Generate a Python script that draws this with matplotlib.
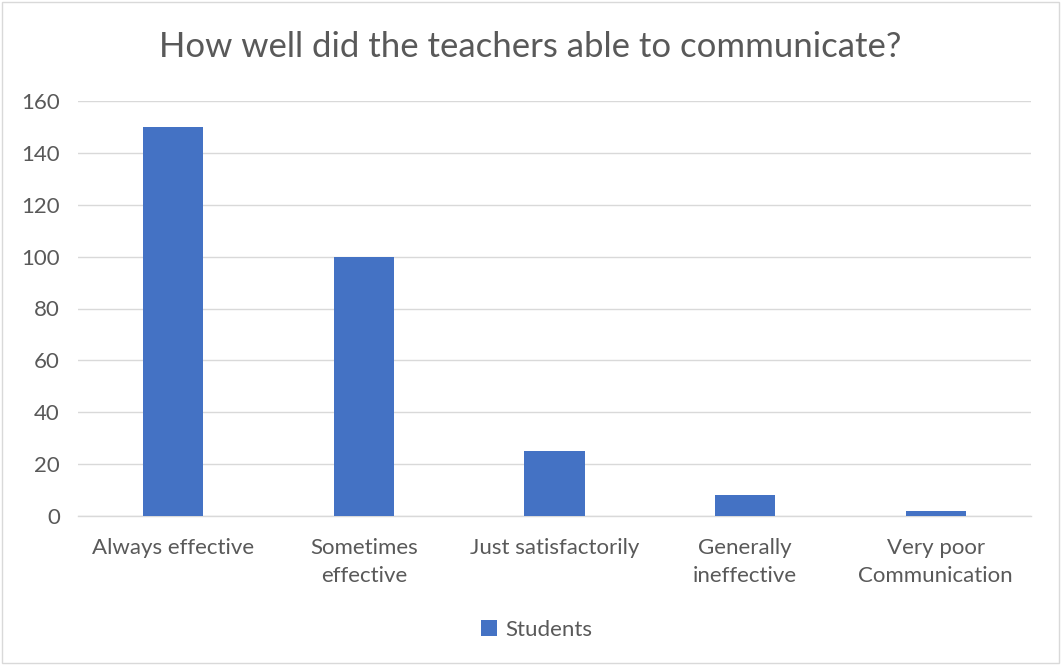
import matplotlib.pyplot as plt
from matplotlib.patches import Rectangle

categories = ['Always effective', 'Sometimes\neffective', 'Just satisfactorily',
              'Generally\nineffective', 'Very poor\nCommunication']
students = [150, 100, 25, 8, 2]
yticks = [0, 20, 40, 60, 80, 100, 120, 140, 160]

plt.rcParams['font.family'] = ['Lato', 'DejaVu Sans']
text_color = '#595959'

fig = plt.figure(figsize=(10.61, 6.65), dpi=100)
ax = fig.add_axes([78 / 1061, 1 - 516 / 665, (1031 - 78) / 1061, (516 - 101) / 665])

x = range(len(categories))
ax.bar(x, students, width=0.315, color='#4472C4', label='Students', zorder=3)

ax.set_xlim(-0.5, len(categories) - 0.5)
ax.set_ylim(0, 160)
ax.set_yticks(yticks)
ax.set_xticks(list(x))
ax.set_xticklabels(categories, fontsize=16, color=text_color, linespacing=1.5)
ax.tick_params(axis='y', labelsize=16, labelcolor=text_color, length=0, pad=13)
ax.tick_params(axis='x', length=0, pad=16)
ax.grid(axis='y', color='#D9D9D9', linewidth=1, zorder=0)
for s in ['top', 'right', 'left']:
    ax.spines[s].set_visible(False)
ax.spines['bottom'].set_color('#D9D9D9')
ax.spines['bottom'].set_linewidth(1)

fig.suptitle('How well did the teachers able to communicate?', y=1 - 47 / 665,
             va='center', fontsize=25, color=text_color)

fig.legend(loc='center', bbox_to_anchor=(537 / 1061, 1 - 630 / 665), frameon=False,
           fontsize=16, labelcolor=text_color, handlelength=0.7, handleheight=0.7,
           handletextpad=0.4)

fig.add_artist(Rectangle((2 / 1061, 2 / 665), 1 - 4 / 1061, 1 - 4 / 665,
                         transform=fig.transFigure, fill=False,
                         edgecolor='#D9D9D9', linewidth=1))

fig.savefig('out.png', dpi=100)
